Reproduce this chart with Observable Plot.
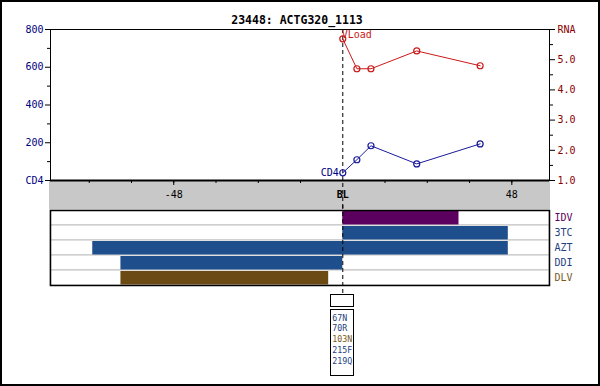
<!DOCTYPE html>
<html>
<head>
<meta charset="utf-8">
<script src="https://cdn.jsdelivr.net/npm/d3@7"></script>
<script src="https://cdn.jsdelivr.net/npm/@observablehq/plot@0.6"></script>
<style>
  body { margin: 0; background: white; }
  #wrap { position: relative; width: 600px; height: 386px; overflow: hidden; background: white; font-family: "DejaVu Sans Mono", monospace; }
  .abs { position: absolute; }
</style>
</head>
<body>
<div id="wrap"></div>
<script>
// ---- data ----
const title = "23448: ACTG320_1113";
const weeks = [0, 4, 8, 21, 39];
const cd4 = [41, 110, 184, 88, 194];
const rna = [5.69, 4.70, 4.70, 5.29, 4.80];
const cd4Ticks = [0, 200, 400, 600, 800];
const cd4TickLabels = ["CD4", "200", "400", "600", "800"];
const cd4Minor = [100, 300, 500, 700];
const rnaTicks = [1, 2, 3, 4, 5, 6];
const rnaTickLabels = ["1.0", "2.0", "3.0", "4.0", "5.0", "RNA"];
const rnaMinor = [1.5, 2.5, 3.5, 4.5, 5.5];
const xDomain = [-83, 58.7];
const xMinor = [-72, -60, -48, -36, -24, -12, 12, 24, 36, 48];
const xMajor = [-48, 48];
const xMajorLabels = ["-48", "48"];
const drugs = ["IDV", "3TC", "AZT", "DDI", "DLV"];
const drugStart = [0, 0, -71, -63, -63];
const drugEnd = [33, 47, 47, 0, -4];
const drugFill = ["#5c0060", "#1f4e8c", "#1f4e8c", "#1f4e8c", "#6b4a14"];
const drugLabelColor = ["#600060", "#1f3f7f", "#1f3f7f", "#1f3f7f", "#7a5a20"];
const mutations = ["67N", "70R", "103N", "215F", "219Q"];
const mutationColor = ["#1f3f7f", "#1f3f7f", "#7a5a20", "#1f3f7f", "#1f3f7f"];

(function () {
const NAVY = "#000080", DARKRED = "#8b0000", CD4C = "#1a1a9c", RNAC = "#cc1818";
const FONT = "DejaVu Sans Mono";
const toY = r => (r - 1) * 160; // RNA (1..6) onto CD4 axis (0..800)

const cd4Data = weeks.map((w, i) => ({w, v: cd4[i]}));
const rnaData = weeks.map((w, i) => ({w, v: toY(rna[i])}));
const drugData = drugs.map((d, i) => ({drug: d, start: drugStart[i], end: drugEnd[i], fill: drugFill[i], lab: drugLabelColor[i]}));

const wrap = document.getElementById("wrap");

// gray x-axis band
const band = document.createElement("div");
band.className = "abs";
Object.assign(band.style, {left: "49px", top: "181px", width: "501px", height: "28px", background: "#c8c8c8"});
wrap.appendChild(band);

// title
const t = document.createElement("div");
t.className = "abs";
t.textContent = title;
Object.assign(t.style, {left: "-3px", top: "14px", width: "600px", textAlign: "center", fontFamily: FONT, fontWeight: "bold", fontSize: "11.5px", lineHeight: "12px", color: "black"});
wrap.appendChild(t);

// ---- top chart ----
const chart = Plot.plot({
  width: 600, height: 210,
  marginTop: 29, marginBottom: 30, marginLeft: 50, marginRight: 51,
  style: {background: "transparent", overflow: "visible", fontFamily: FONT, fontSize: "10px"},
  x: {domain: xDomain, label: null},
  y: {domain: [0, 800], label: null},
  marks: [
    Plot.ruleX([0], {stroke: "black", strokeDasharray: "4,3", insetBottom: -30}),
    Plot.axisY({ticks: cd4Ticks, label: null, tickSize: 5, tickPadding: 2, tickFormat: d => cd4TickLabels[cd4Ticks.indexOf(d)], fill: NAVY, stroke: "black", fontSize: 10, fontFamily: FONT}),
    Plot.axisY({ticks: cd4Minor, label: null, tickSize: 3, tickFormat: () => "", stroke: "black"}),
    Plot.axisY({anchor: "right", label: null, ticks: rnaTicks.map(toY), tickSize: 5, tickPadding: 3, tickFormat: d => rnaTickLabels[rnaTicks.map(toY).indexOf(d)], fill: DARKRED, stroke: "black", fontSize: 10, fontFamily: FONT}),
    Plot.axisY({anchor: "right", label: null, ticks: rnaMinor.map(toY), tickSize: 3, tickFormat: () => "", stroke: "black"}),
    Plot.axisX({ticks: xMinor, label: null, tickSize: 3, tickFormat: () => "", stroke: "black"}),
    Plot.axisX({ticks: xMajor, label: null, tickSize: 5, tickPadding: 5.5, tickFormat: d => xMajorLabels[xMajor.indexOf(d)], fill: "black", stroke: "black", fontSize: 10, fontFamily: FONT}),
    Plot.axisX({ticks: [0], label: null, tickSize: 0, tickPadding: 10.5, tickFormat: () => "BL", fill: "black", fontWeight: "bold", fontSize: 10, fontFamily: FONT}),
    Plot.frame({stroke: "black"}),
    Plot.ruleY([0], {stroke: "black", strokeWidth: 2}),
    Plot.line(rnaData, {x: "w", y: "v", stroke: RNAC, strokeWidth: 1}),
    Plot.dot(rnaData, {x: "w", y: "v", stroke: RNAC, r: 3, strokeWidth: 1.2, fill: "none"}),
    Plot.line(cd4Data, {x: "w", y: "v", stroke: CD4C, strokeWidth: 1}),
    Plot.dot(cd4Data, {x: "w", y: "v", stroke: CD4C, r: 3, strokeWidth: 1.2, fill: "none"}),
    Plot.text([cd4Data[0]], {x: "w", y: "v", text: () => "CD4", textAnchor: "end", dx: -4, fill: NAVY, fontSize: 10, fontFamily: FONT}),
    Plot.text([0], {x: d => d, frameAnchor: "top", text: () => "VLoad", textAnchor: "start", dx: -1, dy: 1.5, fill: RNAC, fontSize: 10, fontFamily: FONT})
  ]
});
chart.classList.add("abs");
chart.style.left = "0px"; chart.style.top = "0px";
wrap.appendChild(chart);

// ---- drug panel ----
const panel = Plot.plot({
  width: 600, height: 90,
  marginTop: 5, marginBottom: 10, marginLeft: 50, marginRight: 51,
  style: {background: "transparent", overflow: "visible", fontFamily: FONT, fontSize: "10px"},
  x: {domain: xDomain, axis: null},
  y: {domain: drugs, padding: 0, axis: null},
  marks: [
    Plot.barX(drugs, {x1: xDomain[0], x2: xDomain[1], y: d => d, fill: "white", stroke: "#c0c0c0"}),
    Plot.barX(drugData, {x1: "start", x2: "end", y: "drug", fill: "fill", insetTop: 1, insetBottom: 0.5}),
    Plot.ruleX([0], {stroke: "black", strokeDasharray: "4,3", insetTop: -5, insetBottom: -9}),
    Plot.frame({stroke: "black", strokeWidth: 1.5}),
    Plot.text(drugData, {y: "drug", text: "drug", frameAnchor: "right", textAnchor: "start", dx: 5, fill: "lab", fontSize: 10, fontFamily: FONT})
  ]
});
panel.classList.add("abs");
panel.style.left = "0px"; panel.style.top = "205px";
wrap.appendChild(panel);

// ---- mutation boxes, positioned at baseline via x scale ----
const x0 = panel.scale("x").apply(0);
const box1 = document.createElement("div");
box1.className = "abs";
Object.assign(box1.style, {left: (x0 - 12) + "px", top: "294px", width: "24px", height: "13px", border: "1px solid black", boxSizing: "border-box", background: "white"});
wrap.appendChild(box1);
const box2 = document.createElement("div");
box2.className = "abs";
Object.assign(box2.style, {left: (x0 - 12) + "px", top: "309px", width: "24px", height: "67px", border: "1px solid black", boxSizing: "border-box", background: "white", paddingTop: "2.5px", paddingLeft: "1px", fontFamily: FONT, fontSize: "8.3px", lineHeight: "10.9px"});
mutations.forEach((m, i) => {
  const s = document.createElement("div");
  s.textContent = m;
  s.style.color = mutationColor[i];
  box2.appendChild(s);
});
wrap.appendChild(box2);

// outer border
const border = document.createElement("div");
border.className = "abs";
Object.assign(border.style, {left: "0px", top: "0px", width: "600px", height: "386px", border: "2px solid black", boxSizing: "border-box", pointerEvents: "none"});
wrap.appendChild(border);
})();
</script>
</body>
</html>
